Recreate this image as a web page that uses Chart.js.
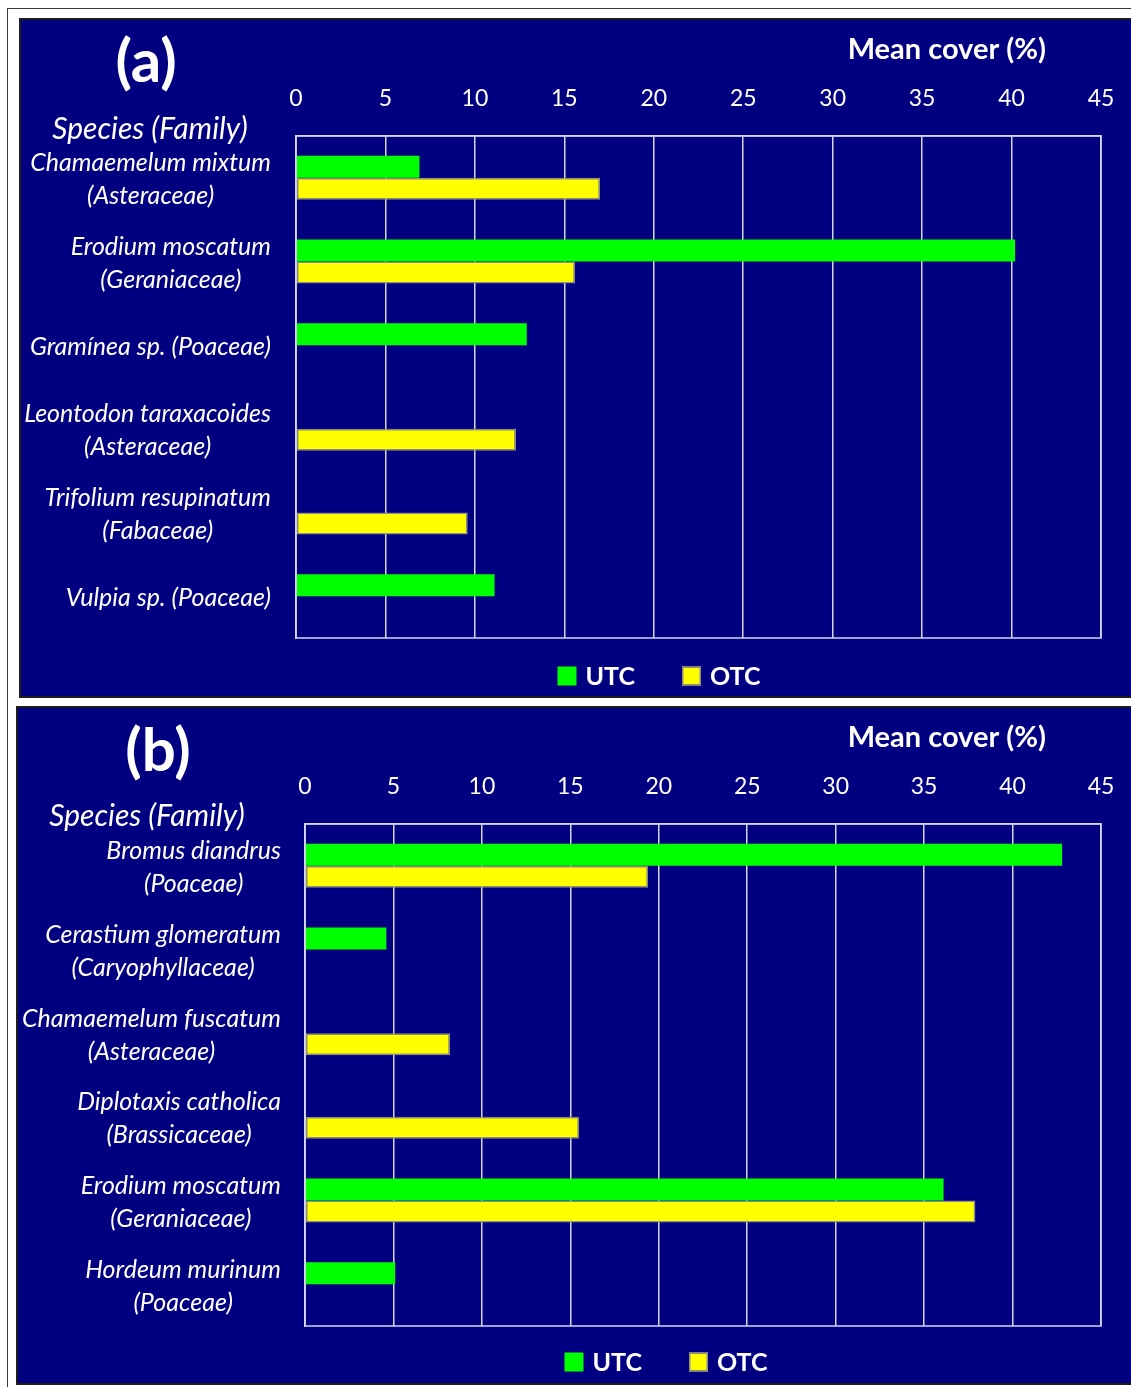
<!DOCTYPE html>
<html>
<head>
<meta charset="utf-8">
<script src="https://cdn.jsdelivr.net/npm/chart.js@4/dist/chart.umd.min.js"></script>
<style>
  html, body { margin: 0; padding: 0; background: #fff; overflow: hidden; width: 1131px; height: 1387px; }
  .frame { position: absolute; left: 7px; top: 8px; width: 1200px; height: 1400px; border: 1.5px solid #3a3a3a; box-sizing: border-box; }
  .panel { position: absolute; background: #000080; border: 2px solid #1c1c1c; box-sizing: border-box; }
  #panelA { left: 19px; top: 18px; width: 1140px; height: 680px; }
  #panelB { left: 16px; top: 706px; width: 1140px; height: 679px; }
  canvas { position: absolute; }
  #chartA { left: 19px; top: 18px; }
  #chartB { left: 16px; top: 706px; }
</style>
</head>
<body>
<div class="frame"></div>
<div class="panel" id="panelA"></div>
<div class="panel" id="panelB"></div>
<canvas id="chartA" width="1112" height="679"></canvas>
<canvas id="chartB" width="1115" height="678"></canvas>
<script>
// ---- data ----
const seriesNames = ["UTC", "OTC"];
const axisTitle = "Mean cover (%)";
const categoryTitle = "Species (Family)";
const xMax = 45;
const xStep = 5;

const categoriesA = [
  ["Chamaemelum mixtum", "(Asteraceae)"],
  ["Erodium moscatum", "(Geraniaceae)"],
  ["Gramínea sp. (Poaceae)"],
  ["Leontodon taraxacoides", "(Asteraceae)"],
  ["Trifolium resupinatum", "(Fabaceae)"],
  ["Vulpia sp. (Poaceae)"]
];
const utcA = [6.9, 40.2, 12.9, null, null, 11.1];
const otcA = [17.0, 15.6, null, 12.3, 9.6, null];

const categoriesB = [
  ["Bromus diandrus", "(Poaceae)"],
  ["Cerastium glomeratum", "(Caryophyllaceae)"],
  ["Chamaemelum fuscatum", "(Asteraceae)"],
  ["Diplotaxis catholica", "(Brassicaceae)"],
  ["Erodium moscatum", "(Geraniaceae)"],
  ["Hordeum murinum", "(Poaceae)"]
];
const utcB = [42.8, 4.6, null, null, 36.1, 5.1];
const otcB = [19.4, null, 8.2, 15.5, 37.9, null];

// ---- styling ----
const FONT = "Lato, 'Open Sans', sans-serif";
const GRID = "#d6d6e6";
const GREEN = "#00ff00";
const YELLOW = "#ffff00";
const YELLOW_EDGE = "#8c8c8c";

// Draws the plot frame, category labels, titles, panel letter and legend.
const decorations = {
  id: "decorations",
  afterDraw(chart, args, o) {
    const ctx = chart.ctx;
    const ca = chart.chartArea;
    const ys = chart.scales.y;
    ctx.save();

    ctx.strokeStyle = GRID;
    ctx.lineWidth = 1.5;
    ctx.strokeRect(ca.left, ca.top, ca.right - ca.left, ca.bottom - ca.top);

    ctx.fillStyle = "#ffffff";
    ctx.textBaseline = "middle";

    // category labels: block right-aligned, lines centred within the block
    ctx.font = "italic 25px " + FONT;
    ctx.textAlign = "center";
    chart.data.labels.forEach((lines, i) => {
      const y = ys.getPixelForValue(i);
      const w = Math.max(...lines.map(l => ctx.measureText(l).width));
      const cx = ca.left - o.labelGap - w / 2;
      lines.forEach((l, k) => ctx.fillText(l, cx, y + (k - (lines.length - 1) / 2) * 33 + 2));
    });

    ctx.font = "italic 30px " + FONT;
    ctx.fillText(categoryTitle, o.catTitleX, o.catTitleY);

    ctx.font = "bold 29px " + FONT;
    ctx.textAlign = "right";
    ctx.fillText(axisTitle, o.axisTitleRight, o.axisTitleY);

    ctx.font = "bold 60px " + FONT;
    ctx.textAlign = "center";
    ctx.fillText(o.letter, o.letterX, o.letterY);

    // legend
    ctx.font = "bold 25px " + FONT;
    ctx.textAlign = "left";
    const box = 19, gapText = 9, gapItem = 47;
    const items = chart.data.datasets.map(ds => ({
      ds, w: box + gapText + ctx.measureText(ds.label).width
    }));
    const total = items.reduce((s, it) => s + it.w, 0) + gapItem * (items.length - 1);
    let x = o.legendX - total / 2;
    items.forEach(it => {
      ctx.fillStyle = it.ds.backgroundColor;
      ctx.fillRect(x, o.legendY - box / 2, box, box);
      if (it.ds.borderWidth) {
        ctx.strokeStyle = it.ds.borderColor;
        ctx.lineWidth = 1.5;
        ctx.strokeRect(x + 0.75, o.legendY - box / 2 + 0.75, box - 1.5, box - 1.5);
      }
      ctx.fillStyle = "#ffffff";
      ctx.fillText(it.ds.label, x + box + gapText, o.legendY + 1);
      x += it.w + gapItem;
    });

    ctx.restore();
  }
};

function makeChart(id, labels, utc, otc, p) {
  return new Chart(document.getElementById(id), {
    type: "bar",
    data: {
      labels: labels,
      datasets: [
        { label: seriesNames[0], data: utc, backgroundColor: GREEN, borderWidth: 0 },
        { label: seriesNames[1], data: otc, backgroundColor: YELLOW, borderColor: YELLOW_EDGE,
          borderWidth: 1.5, borderSkipped: false }
      ]
    },
    options: {
      indexAxis: "y",
      responsive: false,
      animation: false,
      layout: { padding: { left: 0, top: 0, right: p.padRight, bottom: p.padBottom } },
      datasets: { bar: { categoryPercentage: 0.526, barPercentage: 1.0 } },
      scales: {
        x: {
          position: "top",
          min: 0, max: xMax,
          ticks: { stepSize: xStep, color: "#ffffff", font: { family: FONT, size: 23 }, padding: 24 },
          grid: { color: GRID, lineWidth: 1.5, drawTicks: false },
          border: { display: true, color: GRID, width: 1.5 },
          afterFit(s) { s.height = p.axisHeight; s.paddingLeft = 0; s.paddingRight = 0; }
        },
        y: {
          ticks: { display: false },
          grid: { display: false },
          border: { display: true, color: GRID, width: 1.5 },
          afterFit(s) { s.width = p.yWidth; s.paddingTop = 0; s.paddingBottom = 0; }
        }
      },
      plugins: {
        legend: { display: false },
        tooltip: { enabled: false },
        decorations: p.deco
      }
    },
    plugins: [decorations]
  });
}

makeChart("chartA", categoriesA, utcA, otcA, {
  padRight: 30, padBottom: 59, axisHeight: 118, yWidth: 277,
  deco: { labelGap: 25, catTitleX: 131, catTitleY: 111, axisTitleRight: 1027, axisTitleY: 32,
          letter: "(a)", letterX: 127, letterY: 45, legendX: 640, legendY: 658 }
});

makeChart("chartB", categoriesB, utcB, otcB, {
  padRight: 30, padBottom: 58, axisHeight: 118, yWidth: 289,
  deco: { labelGap: 24, catTitleX: 131, catTitleY: 110, axisTitleRight: 1030, axisTitleY: 32,
          letter: "(b)", letterX: 142, letterY: 46, legendX: 650, legendY: 656 }
});
</script>
</body>
</html>
